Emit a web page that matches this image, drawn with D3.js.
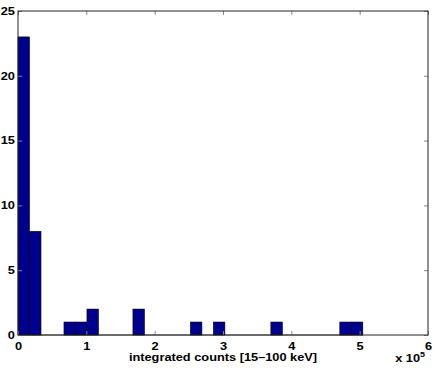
<!DOCTYPE html>
<meta charset="utf-8">
<head>
<style>
body {
  margin: 0;
  font-family: "Liberation Sans", "Helvetica", sans-serif;
  background: #fff;
}
.axis text, .lbl {
  font-size: 10px;
  font-weight: bold;
  fill: #000;
}
.bar {
  fill: #00008f;
  stroke: #000;
  stroke-width: 0.6px;
}
</style>
<script src="https://d3js.org/d3.v7.min.js"></script>
</head>
<body>
<div id="chart"></div>
<script>

// histogram: 30 bins between 0 and ~5.05e5
var binStart = 0;
var binEnd = 504600;
var binCounts = [23, 8, 0, 0, 1, 1, 2, 0, 0, 0, 2, 0, 0, 0, 0, 1, 0, 1, 0, 0, 0, 0, 1, 0, 0, 0, 0, 0, 1, 1];
var xTicks = [0, 1, 2, 3, 4, 5, 6];
var yTicks = [0, 5, 10, 15, 20, 25];

var margin = {top: 11, right: 8, bottom: 37, left: 18},
  width = 436 - margin.left - margin.right,
  height = 372 - margin.top - margin.bottom;

// the picture's text is stretched wider than it is tall
var sx = 1.28;

var svg = d3.select("#chart").append("svg")
  .attr("width", 436)
  .attr("height", 372)
  .append("g")
  .attr("transform", "translate(" + margin.left + "," + margin.top + ")");

var x = d3.scaleLinear().domain([0, 6e5]).range([0, width]);
var y = d3.scaleLinear().domain([0, 25]).range([height, 0]);

var binW = (binEnd - binStart) / binCounts.length;
var bins = binCounts.map(function(c, i) {
  return {x0: binStart + i * binW, x1: binStart + (i + 1) * binW, n: c};
});

svg.selectAll("rect.bar")
  .data(bins.filter(function(d) { return d.n > 0; }))
  .enter()
  .append("rect")
    .attr("class", "bar")
    .attr("x", function(d) { return x(d.x0); })
    .attr("y", function(d) { return y(d.n); })
    .attr("width", function(d) { return x(d.x1) - x(d.x0); })
    .attr("height", function(d) { return y(0) - y(d.n); });

// zero-count bins still draw a flat line on the baseline
svg.append("line")
  .attr("x1", x(binStart)).attr("x2", x(binEnd))
  .attr("y1", y(0)).attr("y2", y(0))
  .attr("stroke", "#000").attr("stroke-width", 0.6);

////axes, ticks inside like matlab
var fmt = function(d) { return d / 1e5; };
var xTickVals = xTicks.map(function(d) { return d * 1e5; });
svg.append("g")
  .attr("class", "axis")
  .attr("transform", "translate(0," + height + ")")
  .call(d3.axisBottom(x).tickValues(xTickVals)
    .tickFormat(fmt).tickSizeInner(-4).tickSizeOuter(0).tickPadding(8));
svg.append("g")
  .attr("class", "axis")
  .call(d3.axisTop(x).tickValues(xTickVals)
    .tickFormat("").tickSizeInner(-4).tickSizeOuter(0));
svg.append("g")
  .attr("class", "axis")
  .call(d3.axisLeft(y).tickValues(yTicks).tickSizeInner(-4).tickSizeOuter(0).tickPadding(2.4));
svg.append("g")
  .attr("class", "axis")
  .attr("transform", "translate(" + width + ",0)")
  .call(d3.axisRight(y).tickValues(yTicks).tickFormat("").tickSizeInner(-4).tickSizeOuter(0));

svg.selectAll(".axis .tick line").attr("stroke", "#888");
svg.selectAll(".axis .tick text").attr("transform", "scale(" + sx + ",1)");
svg.selectAll(".axis .domain").remove();

svg.append("rect")
  .attr("width", width).attr("height", height)
  .attr("fill", "none").attr("stroke", "#222").attr("stroke-width", 1);

svg.append("text")
  .attr("class", "lbl")
  .attr("transform", "translate(" + (width / 2) + "," + (height + 26) + ") scale(" + sx + ",1)")
  .attr("text-anchor", "middle")
  .text("integrated counts [15\u2013100 keV]");

var mult = svg.append("text")
  .attr("class", "lbl")
  .attr("transform", "translate(" + (width - 3) + "," + (height + 27) + ") scale(" + sx + ",1)")
  .attr("text-anchor", "end");
mult.append("tspan").text("x 10");
mult.append("tspan").attr("dy", -5).style("font-size", "7px").text("5");

</script>
</body>
</html>
